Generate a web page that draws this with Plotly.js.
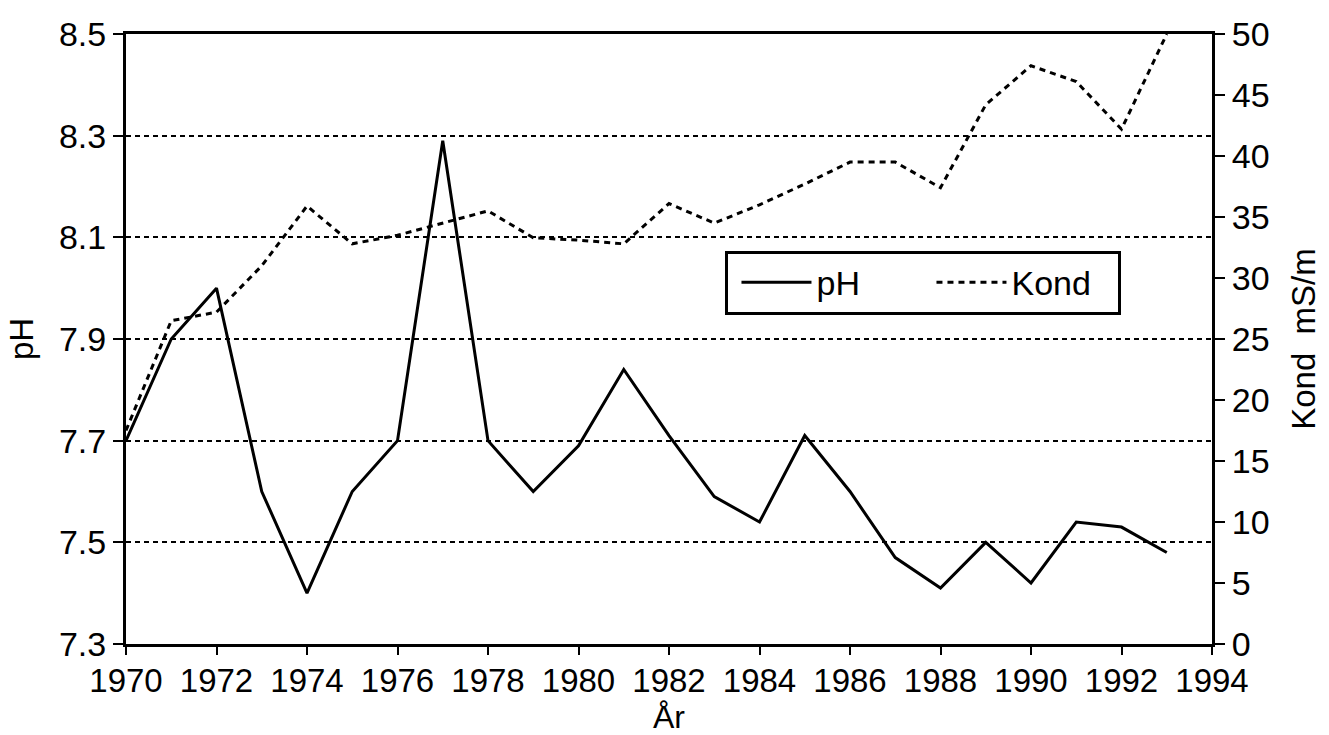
<!DOCTYPE html>
<html>
<head>
<meta charset="utf-8">
<script src="https://cdn.plot.ly/plotly-3.0.1.min.js"></script>
<style>html,body{margin:0;padding:0;background:#fff;}#chart{width:1329px;height:735px;}</style>
</head>
<body>
<div id="chart"></div>
<script>
const years = [1970,1971,1972,1973,1974,1975,1976,1977,1978,1979,1980,1981,1982,1983,1984,1985,1986,1987,1988,1989,1990,1991,1992,1993];
const pH = [7.70,7.90,8.00,7.60,7.40,7.60,7.70,8.29,7.70,7.60,7.69,7.84,7.71,7.59,7.54,7.71,7.60,7.47,7.41,7.50,7.42,7.54,7.53,7.48];
const kond = [17.5,26.5,27.2,31.0,35.9,32.8,33.5,34.5,35.5,33.3,33.1,32.8,36.1,34.5,36.0,37.7,39.5,39.5,37.4,44.2,47.4,46.1,42.2,50.0];
const xTicks = [1970,1972,1974,1976,1978,1980,1982,1984,1986,1988,1990,1992,1994];
const phTicks = [7.3,7.5,7.7,7.9,8.1,8.3,8.5];
const phTickText = ["7.3","7.5","7.7","7.9","8.1","8.3","8.5"];
const kondTicks = [0,5,10,15,20,25,30,35,40,45,50];

const FONT = "Liberation Sans, Arial, Helvetica, sans-serif";
const TICK = 34, TITLE = 33;

const traces = [
  {x: years, y: pH, name: "pH", type: "scatter", mode: "lines",
   line: {color: "#000", width: 3}, yaxis: "y"},
  {x: years, y: kond, name: "Kond", type: "scatter", mode: "lines",
   line: {color: "#000", width: 3, dash: "6px,5px"}, yaxis: "y2"}
];

const layout = {
  width: 1329, height: 735,
  paper_bgcolor: "#fff", plot_bgcolor: "#fff",
  margin: {l: 126, r: 117, t: 34, b: 91},
  font: {family: FONT, size: TICK, color: "#000"},
  showlegend: true,
  legend: {
    x: 0.552, y: 0.645, xanchor: "left", yanchor: "top",
    orientation: "h", bgcolor: "#fff", bordercolor: "#000", borderwidth: 3,
    font: {family: FONT, size: 34, color: "#000"},
    itemwidth: 70, entrywidth: 102, entrywidthmode: "pixels", indentation: 8
  },
  xaxis: {
    range: [1970, 1994], tickvals: xTicks, ticktext: xTicks.map(String),
    showline: true, linecolor: "#000", linewidth: 3, mirror: true,
    ticks: "outside", ticklen: 8, tickwidth: 2, tickcolor: "#000",
    ticklabelstandoff: -3,
    showgrid: false, zeroline: false,
    tickfont: {family: FONT, size: 33},
    title: {text: "År", font: {family: FONT, size: 32}, standoff: 12}
  },
  yaxis: {
    range: [7.3, 8.5], tickvals: phTicks, ticktext: phTickText,
    showline: true, linecolor: "#000", linewidth: 3,
    ticks: "outside", ticklen: 10, tickwidth: 2, tickcolor: "#000",
    showgrid: true, gridcolor: "#000", gridwidth: 2, griddash: "5px,4px",
    zeroline: false,
    tickfont: {family: FONT, size: TICK},
    title: {text: "pH", font: {family: FONT, size: TITLE}, standoff: 16}
  },
  yaxis2: {
    range: [0, 50], tickvals: kondTicks, overlaying: "y", side: "right",
    showline: true, linecolor: "#000", linewidth: 3,
    ticks: "outside", ticklen: 10, tickwidth: 2, tickcolor: "#000",
    showgrid: false, zeroline: false,
    tickfont: {family: FONT, size: TICK},
    title: {text: "Kond  mS/m", font: {family: FONT, size: TITLE}, standoff: 24}
  }
};

Plotly.newPlot("chart", traces, layout, {staticPlot: true, displayModeBar: false});
</script>
</body>
</html>
